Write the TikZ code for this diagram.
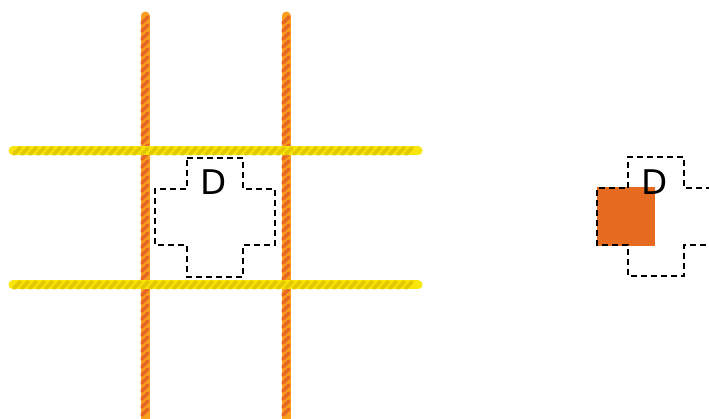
\documentclass[tikz,border=0pt]{standalone}
\usepackage{fontspec}
\setmainfont{DejaVu Sans}
\definecolor{RopeOrange}{RGB}{250,160,30}
\definecolor{RopeOrangeDark}{RGB}{230,104,36}
\definecolor{RopeYellow}{RGB}{248,230,10}
\definecolor{RopeYellowDark}{RGB}{226,200,0}
\definecolor{BlockOrange}{RGB}{230,106,32}
\tikzset{
  ropeV/.style={line width=9pt,line cap=round,draw=RopeOrange},
  ropeVstrand/.style={line width=3.6pt,line cap=round,draw=RopeOrangeDark},
  ropeH/.style={line width=9pt,line cap=round,draw=RopeYellow},
  ropeHstrand/.style={line width=3.6pt,line cap=round,draw=RopeYellowDark},
  zone/.style={draw=black,line width=2.4pt,dash pattern=on 6pt off 4pt},
  letter/.style={font=\fontsize{34}{34}\selectfont,inner sep=0pt,text=black},
  block/.style={fill=BlockOrange,draw=none}
}
\begin{document}
\begin{tikzpicture}[x=1pt,y=-1pt]
  \useasboundingbox (0,0) rectangle (709,419);
  % vertical ropes
  \foreach \rx in {145,286}{
    \draw[ropeV] (\rx,16) -- (\rx,419);
    \foreach \ry in {20,28,...,416}
      \draw[ropeVstrand] (\rx-3.2,\ry+3.2) -- (\rx+3.2,\ry-3.2);
  }
  % horizontal ropes
  \foreach \ry in {151,285}{
    \draw[ropeH] (13,\ry) -- (418,\ry);
    \foreach \rx in {17,25,...,416}
      \draw[ropeHstrand] (\rx-3.2,\ry+3.2) -- (\rx+3.2,\ry-3.2);
  }
  % dashed cross inside the grid
  \draw[zone] (187,158) -- (243,158) -- (243,189) -- (275,189) -- (275,245)
    -- (243,245) -- (243,277) -- (187,277) -- (187,245) -- (155,245)
    -- (155,189) -- (187,189) -- cycle;
  \node[letter] (dLeft) at (214,182) {D};
  % the cross on its own, with the block
  \node[block,minimum width=58pt,minimum height=59pt,inner sep=0pt] (blk) at (626,216.5) {};
  \draw[zone] (628,188) -- (628,157) -- (684,157) -- (684,188) -- (716,188);
  \draw[zone] (716,245) -- (684,245) -- (684,276) -- (628,276) -- (628,245)
    -- (597,245) -- (597,188) -- (628,188);
  \node[letter] (dRight) at (655,182) {D};
\end{tikzpicture}
\end{document}
